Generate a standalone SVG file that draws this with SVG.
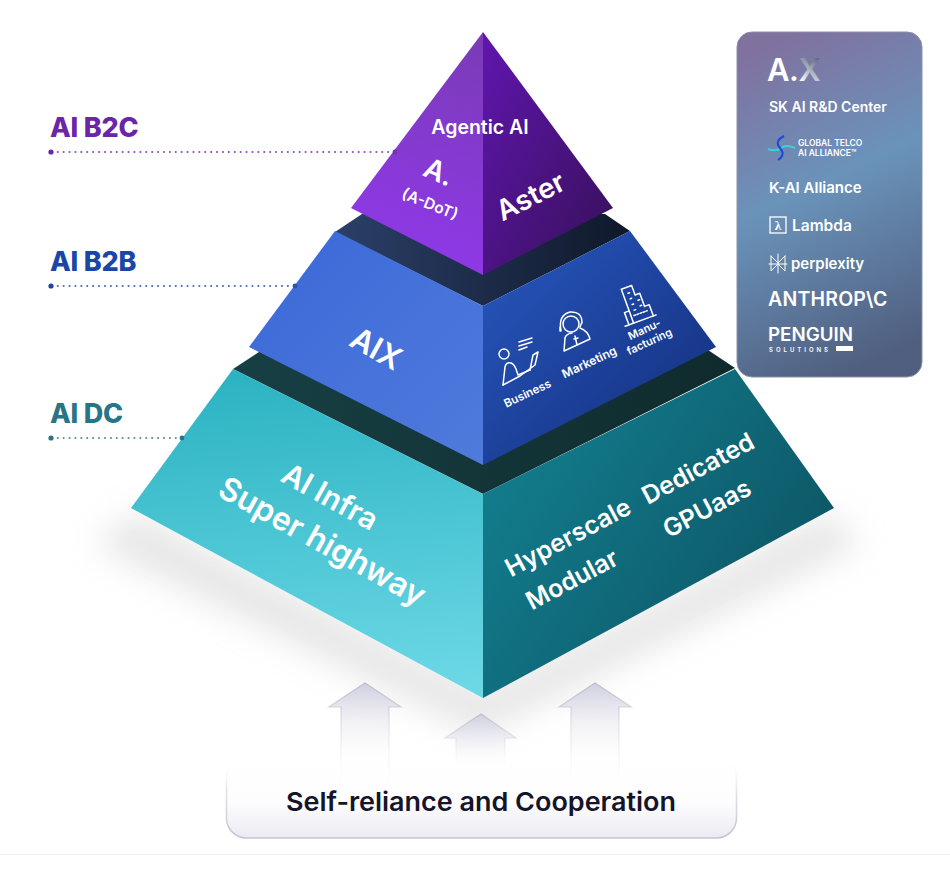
<svg xmlns="http://www.w3.org/2000/svg" width="950" height="877" viewBox="0 0 950 877">
<defs>
<linearGradient id="tl" x1="0.7" y1="0" x2="0.5" y2="1"><stop offset="0" stop-color="#7b3bb8"/><stop offset="1" stop-color="#9038ea"/></linearGradient>
<linearGradient id="tr" x1="0" y1="0" x2="1" y2="1"><stop offset="0" stop-color="#6016ae"/><stop offset="1" stop-color="#361058"/></linearGradient>
<linearGradient id="ml" x1="0" y1="0" x2="1" y2="1"><stop offset="0" stop-color="#3c68d8"/><stop offset="1" stop-color="#4f7bdc"/></linearGradient>
<linearGradient id="mr" x1="0" y1="0" x2="1" y2="1"><stop offset="0" stop-color="#2858c0"/><stop offset="1" stop-color="#122c78"/></linearGradient>
<linearGradient id="bl" x1="0.5" y1="0" x2="0.6" y2="1"><stop offset="0" stop-color="#2cb3c2"/><stop offset="1" stop-color="#6cd8e6"/></linearGradient>
<linearGradient id="br" x1="0" y1="0" x2="1" y2="0.6"><stop offset="0" stop-color="#138494"/><stop offset="1" stop-color="#0d5565"/></linearGradient>
<linearGradient id="db1" x1="0" y1="0" x2="1" y2="0"><stop offset="0" stop-color="#2b3f68"/><stop offset="1" stop-color="#0f182a"/></linearGradient>
<linearGradient id="db2" x1="0" y1="0" x2="1" y2="0"><stop offset="0" stop-color="#174044"/><stop offset="1" stop-color="#0f2a2c"/></linearGradient>
<linearGradient id="panel" x1="0.3" y1="0" x2="0.55" y2="1"><stop offset="0" stop-color="#80719f"/><stop offset="0.45" stop-color="#6a93ba"/><stop offset="1" stop-color="#505f80"/></linearGradient>
<linearGradient id="arrow" gradientUnits="userSpaceOnUse" x1="0" y1="683" x2="0" y2="770"><stop offset="0" stop-color="#d0cfe0"/><stop offset="1" stop-color="#ffffff" stop-opacity="0"/></linearGradient>
<linearGradient id="arrow2" gradientUnits="userSpaceOnUse" x1="0" y1="714" x2="0" y2="770"><stop offset="0" stop-color="#d0cfe0"/><stop offset="1" stop-color="#ffffff" stop-opacity="0"/></linearGradient>
<linearGradient id="arrowline" gradientUnits="userSpaceOnUse" x1="0" y1="683" x2="0" y2="785"><stop offset="0" stop-color="#bdbccc"/><stop offset="1" stop-color="#e8e8ee" stop-opacity="0"/></linearGradient>
<linearGradient id="arrowline2" gradientUnits="userSpaceOnUse" x1="0" y1="714" x2="0" y2="765"><stop offset="0" stop-color="#bdbccc"/><stop offset="1" stop-color="#e8e8ee" stop-opacity="0"/></linearGradient>
<linearGradient id="box" x1="0" y1="0" x2="0" y2="1"><stop offset="0" stop-color="#ffffff"/><stop offset="0.55" stop-color="#fdfdfe"/><stop offset="1" stop-color="#ebebf2"/></linearGradient>
<linearGradient id="boxline" x1="0" y1="0" x2="0" y2="1"><stop offset="0" stop-color="#ffffff" stop-opacity="0"/><stop offset="0.4" stop-color="#e4e4ec"/><stop offset="1" stop-color="#c4c3d3"/></linearGradient>
<linearGradient id="ax" x1="1" y1="0" x2="0" y2="1"><stop offset="0" stop-color="#36405f"/><stop offset="0.6" stop-color="#ffffff"/></linearGradient>
<filter id="blur" x="-20%" y="-30%" width="140%" height="160%"><feGaussianBlur stdDeviation="16"/></filter>
</defs>
<style>
text{font-family:"Inter","Liberation Sans",sans-serif}
.f{fill:#fff;font-weight:600;text-anchor:middle}
.p{fill:#fff;font-weight:600}
.lab{font-size:27px;font-weight:800;letter-spacing:-0.2px}
.dot{fill:none;stroke-width:1.7;stroke-dasharray:1.7 4.2}
.ic{fill:none;stroke:#fff;stroke-width:1.5;stroke-linejoin:round;stroke-linecap:round}
</style>
<rect width="950" height="877" fill="#fff"/>
<path d="M0 854.500H950" stroke="#efeff1" stroke-width="1"/>
<path id="shadow" d="M135 512L95 545L480 735L860 545L830 512L483 690Z" fill="#cfcfcf" opacity="0.5" filter="url(#blur)"/>

<g id="label-b2c"><text class="lab" x="50" y="137" fill="#6a25a8">AI B2C</text></g>
<g id="label-b2b"><text class="lab" x="50" y="271" fill="#1a46a8">AI B2B</text></g>
<g id="label-dc"><text class="lab" x="50" y="423" fill="#2a7488">AI DC</text></g>

<g id="tier-dc">
<path d="M233 369L262 350H708L735 368L483 494Z" fill="url(#db2)"/>
<path d="M233 369L483 494V698L131 508Z" fill="url(#bl)"/>
<path d="M483 494L735 369L834 508L483 698Z" fill="url(#br)"/>
<text class="f" font-size="30" transform="translate(325,506) rotate(29)">AI Infra</text>
<text class="f" font-size="32" transform="translate(317,551) rotate(29)">Super highway</text>
<text class="f" font-size="25" transform="translate(572,545) rotate(-28)">Hyperscale</text>
<text class="f" font-size="25" transform="translate(576,587) rotate(-28)">Modular</text>
<text class="f" font-size="25" transform="translate(702,476) rotate(-28)">Dedicated</text>
<text class="f" font-size="25" transform="translate(711,516) rotate(-28)">GPUaas</text>
</g>

<g id="tier-b2b">
<path d="M335 232L362 214H605L630 231L483 306Z" fill="url(#db1)"/>
<path d="M335 231L483 306V465L249 347Z" fill="url(#ml)"/>
<path d="M483 306L630 231L716 347L483 465Z" fill="url(#mr)"/>
<text class="f" font-size="31" transform="translate(371,358) rotate(29)">AIX</text>
<g class="ic">
<circle cx="504" cy="354" r="5"/>
<path d="M503 385L505 367Q506 362 511 363Q514 364 516 369L518 375L530 370"/>
<path d="M503 385L520 376L535 365L538 352L533 355L530 370"/>
<path d="M519 342L532 338M519 346L532 342M519 350L527 347"/>
<circle cx="571" cy="324" r="8"/>
<path d="M561 331Q558 315 570 312Q582 311 582 323M560 327V331M582 322L580 327"/>
<path d="M564 351L565 338Q566 334 572 333M580 328Q588 331 590 339L564 351"/>
<path d="M575 336L577 345M574 339L578 338"/>
<g transform="translate(636,318) rotate(-20)">
<path d="M-13 4H20"/>
<path d="M-9 4V-9H-4M-4 4V-32H7V-22H12V-8H17V4"/>
<path d="M1-26h2M1-20h2M1-14h2M1-8h2M8-16h2M8-10h2M-1-3h14" stroke-dasharray="1.6 1.6"/>
</g>
</g>
<text class="f" font-size="11.5" font-weight="700" transform="translate(529,397) rotate(-25)">Business</text>
<text class="f" font-size="12" font-weight="700" transform="translate(591,366) rotate(-25)">Marketing</text>
<text class="f" font-size="11" font-weight="700" transform="translate(646,333) rotate(-25)">Manu-</text>
<text class="f" font-size="11" font-weight="700" transform="translate(651,345) rotate(-25)">facturing</text>
</g>

<g id="tier-b2c">
<path d="M483 32V275L351 208Z" fill="url(#tl)"/>
<path d="M483 32L613 208L483 275Z" fill="url(#tr)"/>
<text class="f" font-size="19.500" x="480" y="134">Agentic AI</text>
<text class="f" font-size="28" transform="translate(435,181) rotate(24)">A.</text>
<text class="f" font-size="15.500" font-weight="500" transform="translate(428,209) rotate(22)">(A-DoT)</text>
<text class="f" font-size="28" transform="translate(535,205) rotate(-27)">Aster</text>
</g>

<g id="connectors">
<path class="dot" stroke="#6a25a8" d="M51 152H396"/><circle cx="51" cy="152" r="2.600" fill="#6a25a8"/><circle cx="395" cy="152" r="2.400" fill="#6d3aa0"/>
<path class="dot" stroke="#1a46a8" d="M51 286H296"/><circle cx="51" cy="286" r="2.600" fill="#1a46a8"/><circle cx="295" cy="286" r="2.400" fill="#2a52a8"/>
<path class="dot" stroke="#2a7488" d="M51 438H182"/><circle cx="51" cy="438" r="2.600" fill="#2a7488"/><circle cx="182" cy="438" r="2.400" fill="#2a7488"/>
</g>

<g id="partners">
<rect x="737" y="32" width="185" height="345" rx="15" fill="url(#panel)" stroke="#8c90a8" stroke-width="1"/>
<text class="p" x="767" y="81" font-size="31" font-weight="900" letter-spacing="-0.5">A.<tspan fill="url(#ax)">X</tspan></text>
<text class="p" x="769" y="112" font-size="14">SK AI R&amp;D Center</text>
<g fill="none" stroke-width="2"><path d="M768 149Q776 152 781 148T795 148" stroke="#3ad0dc"/><path d="M784 136Q774 141 780 148T778 160" stroke="#1a4ad8"/></g>
<text class="p" x="798" y="146" font-size="8.500" font-weight="500">GLOBAL TELCO</text>
<text class="p" x="798" y="156" font-size="8.500" font-weight="500">AI ALLIANCE™</text>
<text class="p" x="769" y="193" font-size="15">K-AI Alliance</text>
<rect x="770" y="217" width="16" height="16" fill="none" stroke="#fff" stroke-width="1.300"/>
<text class="p" x="778" y="230" font-size="13" text-anchor="middle" style="font-family:'Liberation Serif',serif">λ</text>
<text class="p" x="792" y="231" font-size="15.500" font-weight="700">Lambda</text>
<g class="ic" style="stroke-width:1"><path d="M778 254V273M771 256L778 263L785 256M771 256V271L778 264L785 271V256M769 264H787"/></g>
<text class="p" x="791" y="269" font-size="15" font-weight="400">perplexity</text>
<text class="p" x="768" y="306" font-size="19.500" font-weight="800" letter-spacing="0.2">ANTHROP\C</text>
<text class="p" x="768" y="341" font-size="18" font-weight="400" textLength="85" lengthAdjust="spacingAndGlyphs">PENGUIN</text>
<text class="p" x="769" y="352" font-size="6" font-weight="700" letter-spacing="3">SOLUTIONS</text>
<rect x="836" y="346" width="17" height="5" fill="#fff"/>
</g>

<g id="foundation">
<rect x="226.500" y="758" width="510" height="80" rx="20" fill="url(#box)" stroke="url(#boxline)" stroke-width="1.600"/>
<text x="481" y="811" font-size="26" font-weight="600" fill="#14142a" text-anchor="middle" textLength="390" lengthAdjust="spacingAndGlyphs">Self-reliance and Cooperation</text>
</g>

<g id="arrows">
<path d="M365 683L401 707H389V770H341V707H329Z" fill="url(#arrow)"/>
<path d="M341 785V707H329L365 683L401 707H389V785" fill="none" stroke="url(#arrowline)" stroke-width="1.200"/>
<path d="M481 714L516 738H505V770H456V738H445Z" fill="url(#arrow2)"/>
<path d="M456 765V738H445L481 714L516 738H505V765" fill="none" stroke="url(#arrowline2)" stroke-width="1.200"/>
<path d="M595 683L631 707H619V770H571V707H559Z" fill="url(#arrow)"/>
<path d="M571 785V707H559L595 683L631 707H619V785" fill="none" stroke="url(#arrowline)" stroke-width="1.200"/>
</g>
</svg>
